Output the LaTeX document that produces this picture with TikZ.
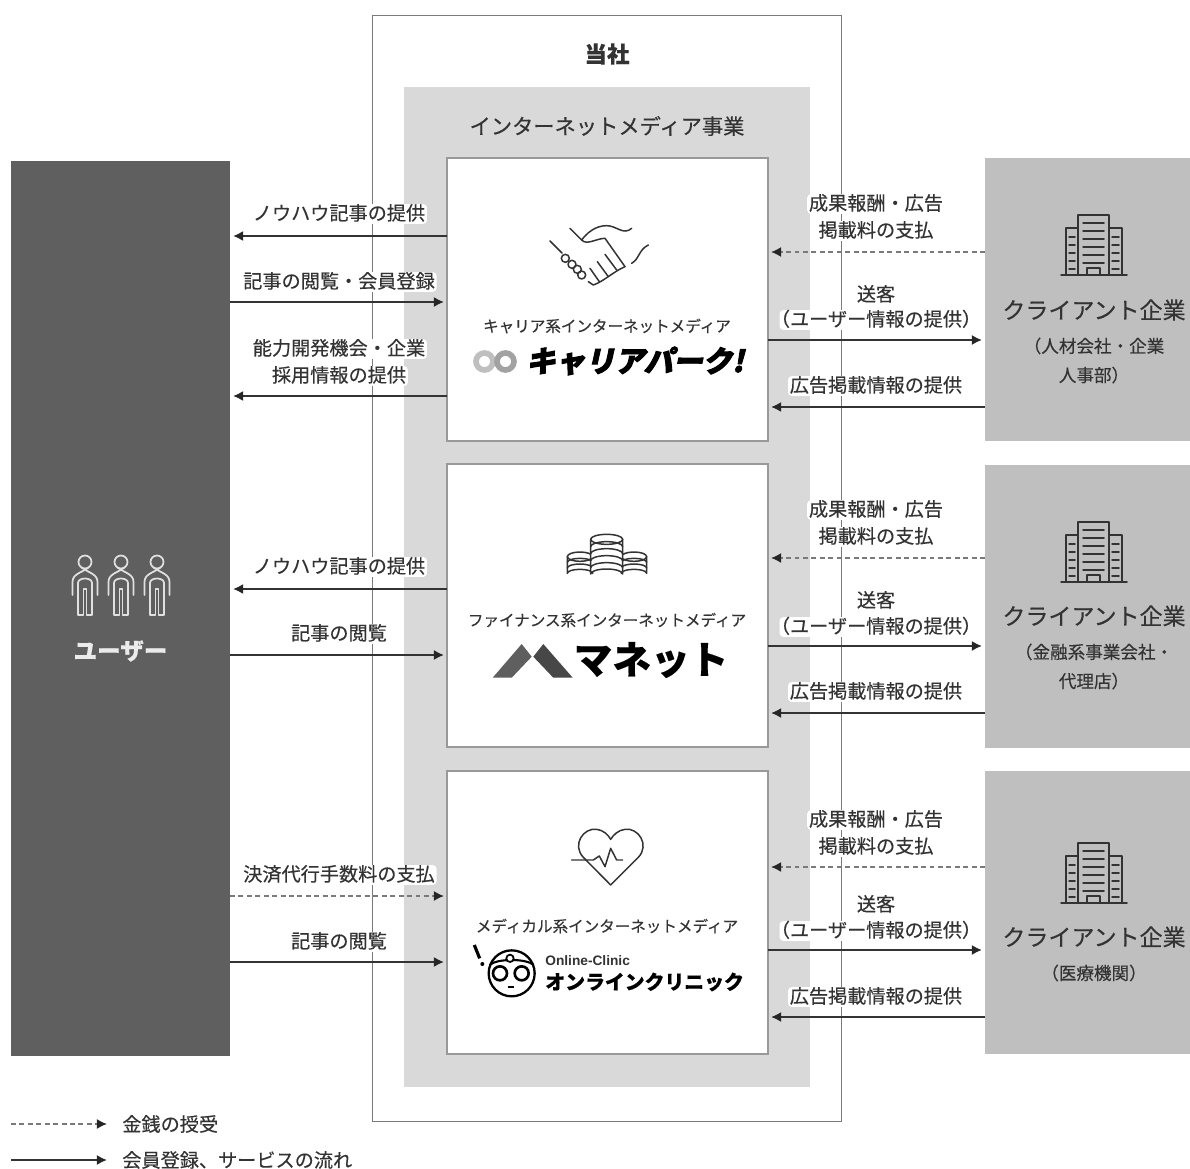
\documentclass[tikz,border=0pt]{standalone}
\usepackage{fontspec}
\usepackage{xcolor}
\usetikzlibrary{arrows.meta}
\setmainfont{Noto Sans CJK JP}[FakeBold=0.35]
\newfontfamily\careerlogofont{Noto Sans CJK JP}[FakeSlant=0.22,FakeBold=3]
\newfontfamily\latinlogofont{Liberation Sans}
\definecolor{inkgrey}{HTML}{333333}
\definecolor{usergrey}{HTML}{5F5F5F}
\definecolor{clientgrey}{HTML}{BFBFBF}
\definecolor{mediagrey}{HTML}{D9D9D9}
\definecolor{rulegrey}{HTML}{999999}

\tikzset{
	panel/.style={rectangle, inner sep=0pt, outer sep=0pt},
	whitebox/.style={panel, fill=white, draw=rulegrey, line width=0.7pt, minimum width=6.42cm, minimum height=5.66cm},
	clientbox/.style={panel, fill=clientgrey, minimum width=4.1cm, minimum height=5.66cm},
	flowlabel/.style={inner xsep=1pt, inner ysep=0.5pt, rounded corners=2pt, fill=white, text=inkgrey, text height=8.6pt, text depth=1.6pt, font=\fontsize{10.9}{15.4}\selectfont},
	legendtext/.style={inner sep=0pt, text=inkgrey, font=\fontsize{10.9}{15.4}\selectfont},
	medianame/.style={inner sep=0pt, text=inkgrey, font=\fontsize{8.85}{10}\selectfont},
	clienttitle/.style={inner sep=0pt, text=inkgrey, font=\fontsize{13.1}{16}\selectfont},
	clientnote/.style={inner sep=0pt, align=center, text=inkgrey, font=\fontsize{10}{16.6}\selectfont},
	serviceflow/.style={-{Latex[length=5.8pt,width=5.8pt,color=black!85]}, line width=1.25pt, color=inkgrey, shorten >=1.7pt},
	moneyflow/.style={-{Latex[length=5.8pt,width=5.8pt,color=black!85]}, line width=1.05pt, color=inkgrey!65, dash pattern=on 2.8pt off 2pt, shorten >=1.7pt},
	icon/.style={line width=0.85pt, draw=inkgrey, line cap=round, line join=round},
	usericon/.style={line width=1pt, draw=white!88!black, line cap=round, line join=round},
	pics/building/.style={code={
		\draw[icon] (-33,30) -- (33,30);
		\draw[icon] (-16,30) -- (-16,-30) -- (15,-30) -- (15,30);
		\draw[icon] (-28,30) -- (-28,-17) -- (-16,-17);
		\draw[icon] (15,-17) -- (28,-17) -- (28,30);
		\foreach \y in {-22,-14,...,18}{
			\draw[icon] (-11,\y) -- (10,\y);
		}
		\foreach \y in {-8,0,...,24}{
			\draw[icon] (-25,\y) -- (-19,\y);
			\draw[icon] (18,\y) -- (25,\y);
		}
		\draw[icon] (-7,30) -- (-7,23) -- (6,23) -- (6,30);
	}},
	pics/person/.style={code={
		\draw[usericon] (0,0) circle (6.5);
		\draw[usericon] (-12.5,33) -- (-12.5,20) .. controls (-12.5,12) and (-4,11) .. (3.5,5.5);
		\draw[usericon] (12.5,33) -- (12.5,20) .. controls (12.5,12) and (4,11) .. (-3.5,5.5);
		\draw[usericon] (-7,33) -- (-7,21) .. controls (-7,15) and (7,15) .. (7,21) -- (7,33);
		\draw[usericon] (-7,27) -- (-7,53) -- (-1.5,53) -- (-1.5,27) -- (1.5,27) -- (1.5,53) -- (7,53) -- (7,27);
	}}
}

\begin{document}
\begin{tikzpicture}[x=0.02cm,y=-0.02cm]
	\useasboundingbox (0,0) rectangle (1190,1169);

	% frames
	\node[panel, draw=rulegrey!80!black, line width=0.6pt, minimum width=9.4cm, minimum height=22.14cm] (company) at (607,568.5) {};
	\node[panel, fill=mediagrey, minimum width=8.12cm, minimum height=20cm] (media) at (607,587) {};
	\draw[rulegrey!80!black, line width=0.6pt] (company.north east) -- (company.south east);
	\draw[rulegrey!80!black, line width=0.6pt] (company.north west) -- (company.south west);

	\node[inner sep=0pt, text=inkgrey, font=\fontsize{12.8}{16}\selectfont\bfseries] (companyname) at (607,54) {当社};
	\node[inner sep=0pt, text=inkgrey, font=\fontsize{12.1}{16}\selectfont] (medianame) at (607,126) {インターネットメディア事業};

	\node[whitebox] (career) at (607.5,299.5) {};
	\node[whitebox] (finance) at (607.5,605.5) {};
	\node[whitebox] (medical) at (607.5,912.5) {};

	\node[panel, fill=usergrey, minimum width=4.38cm, minimum height=17.9cm] (user) at (120.5,608.5) {};
	\node[clientbox] (clientA) at (1087.5,299.5) {};
	\node[clientbox] (clientB) at (1087.5,606.5) {};
	\node[clientbox] (clientC) at (1087.5,912.5) {};

	% arrows, user side
	\draw[serviceflow] (career.west |- 0,236) -- (user.east |- 0,236);
	\draw[serviceflow] (user.east |- 0,302) -- (career.west |- 0,302);
	\draw[serviceflow] (career.west |- 0,396) -- (user.east |- 0,396);
	\draw[serviceflow] (finance.west |- 0,589) -- (user.east |- 0,589);
	\draw[serviceflow] (user.east |- 0,655) -- (finance.west |- 0,655);
	\draw[moneyflow] (user.east |- 0,896) -- (medical.west |- 0,896);
	\draw[serviceflow] (user.east |- 0,962) -- (medical.west |- 0,962);

	% arrows, client side
	\draw[moneyflow] (clientA.west |- 0,252) -- (career.east |- 0,252);
	\draw[serviceflow] (career.east |- 0,340) -- (clientA.west |- 0,340);
	\draw[serviceflow] (clientA.west |- 0,407) -- (career.east |- 0,407);
	\draw[moneyflow] (clientB.west |- 0,558) -- (finance.east |- 0,558);
	\draw[serviceflow] (finance.east |- 0,646) -- (clientB.west |- 0,646);
	\draw[serviceflow] (clientB.west |- 0,713) -- (finance.east |- 0,713);
	\draw[moneyflow] (clientC.west |- 0,867) -- (medical.east |- 0,867);
	\draw[serviceflow] (medical.east |- 0,950) -- (clientC.west |- 0,950);
	\draw[serviceflow] (clientC.west |- 0,1017) -- (medical.east |- 0,1017);

	% labels, user side
	\node[flowlabel] (knowhowA) at (339,214) {ノウハウ記事の提供};
	\node[flowlabel] (signupA) at (339,282) {記事の閲覧・会員登録};
	\node[flowlabel] (skillA) at (339,349) {能力開発機会・企業};
	\node[flowlabel] (hiringA) at (339,376) {採用情報の提供};
	\node[flowlabel] (knowhowB) at (339,567) {ノウハウ記事の提供};
	\node[flowlabel] (readB) at (339,634) {記事の閲覧};
	\node[flowlabel] (feeC) at (339,875) {決済代行手数料の支払};
	\node[flowlabel] (readC) at (339,942) {記事の閲覧};

	% labels, client side
	\node[flowlabel] (rewardA) at (876,204) {成果報酬・広告};
	\node[flowlabel] (paymentA) at (876,231) {掲載料の支払};
	\node[flowlabel] (sendA) at (876,295) {送客};
	\node[flowlabel, inner xsep=-5pt] (detailA) at (876,320) {（ユーザー情報の提供）};
	\node[flowlabel] (infoA) at (876,386) {広告掲載情報の提供};
	\node[flowlabel] (rewardB) at (876,510) {成果報酬・広告};
	\node[flowlabel] (paymentB) at (876,537) {掲載料の支払};
	\node[flowlabel] (sendB) at (876,601) {送客};
	\node[flowlabel, inner xsep=-5pt] (detailB) at (876,627) {（ユーザー情報の提供）};
	\node[flowlabel] (infoB) at (876,692) {広告掲載情報の提供};
	\node[flowlabel] (rewardC) at (876,820) {成果報酬・広告};
	\node[flowlabel] (paymentC) at (876,847) {掲載料の支払};
	\node[flowlabel] (sendC) at (876,905) {送客};
	\node[flowlabel, inner xsep=-5pt] (detailC) at (876,931) {（ユーザー情報の提供）};
	\node[flowlabel] (infoC) at (876,997) {広告掲載情報の提供};

	% user panel
	\foreach \x in {85,121,157}{
		\pic at (\x,562) {person};
	}
	\node[inner sep=0pt, text=white!92!black, font=\fontsize{13.4}{16}\selectfont\bfseries] (usertext) at (120.5,651) {ユーザー};

	% client panels
	\pic at (1094,245) {building};
	\pic at (1094,552) {building};
	\pic at (1094,873) {building};
	\node[clienttitle] (clientnameA) at (1094,310) {クライアント企業};
	\node[clientnote] (clientnoteA) at (1094,360.5) {（人材会社・企業\\人事部）};
	\node[clienttitle] (clientnameB) at (1094,616) {クライアント企業};
	\node[clientnote] (clientnoteB) at (1094,666.5) {（金融系事業会社・\\代理店）};
	\node[clienttitle] (clientnameC) at (1094,937) {クライアント企業};
	\node[clientnote] (clientnoteC) at (1094,973) {（医療機関）};

	% handshake
	\begin{scope}[shift={(540,215)},x=0.00667cm,y=-0.00667cm]
		\draw[icon] (30,78) -- (66,114);
		\foreach \x/\y in {76/130,96/148,112/163,125/180}{
			\draw[icon] (\x,\y) circle (12);
		}
		\draw[icon] (90,40) -- (125,75) .. controls (140,55) and (165,32) .. (200,32) .. controls (230,32) and (250,62) .. (275,40);
		\draw[icon] (125,75) .. controls (140,92) and (170,70) .. (195,70) -- (255,155);
		\draw[icon] (195,118) -- (230,165);
		\draw[icon] (172,140) -- (205,185);
		\draw[icon] (150,160) -- (178,200);
		\draw[icon] (255,155) .. controls (220,170) and (190,200) .. (160,210) -- (145,200);
		\draw[icon] (275,145) .. controls (300,130) and (295,105) .. (325,90);
	\end{scope}

	% coins
	\begin{scope}[shift={(440,500)},x=0.00667cm,y=-0.00667cm]
		\foreach \c in {420,582}{
			\draw[icon, fill=white] (\c-38,170) -- (\c-38,220) arc (180:360:38 and 12) -- (\c+38,170);
			\draw[icon, fill=white] (\c,170) ellipse (38 and 14);
			\foreach \y in {187,204}{
				\draw[icon] (\c-38,\y) arc (180:360:38 and 12);
			}
		}
		\draw[icon, fill=white] (452,118) -- (452,222) arc (180:360:48 and 15) -- (548,118);
		\draw[icon, fill=white] (500,118) ellipse (48 and 15);
		\foreach \y in {140,161,182,203}{
			\draw[icon] (452,\y) arc (180:360:48 and 15);
		}
	\end{scope}

	% heart
	\begin{scope}[shift={(440,770)},x=0.00667cm,y=-0.00667cm]
		\draw[icon] (512,345) -- (430,262) .. controls (395,225) and (430,172) .. (470,178) .. controls (490,180) and (505,195) .. (512,208) .. controls (520,195) and (535,180) .. (555,178) .. controls (595,172) and (630,225) .. (595,262) -- cycle;
		\draw[icon] (395,270) -- (460,270) -- (478,258) -- (495,290) -- (512,235) -- (530,270) -- (548,270);
	\end{scope}

	% logos
	\draw[line width=3.2pt, color=clientgrey] (484.5,361.5) circle (8.5);
	\draw[line width=3.2pt, color=clientgrey!85!black] (505.5,361.5) circle (8.5);
	\node[medianame] (careername) at (607,326) {キャリア系インターネットメディア};
	\node[inner sep=0pt, text=black, font=\fontsize{16.8}{20}\careerlogofont\bfseries] (careerlogo) at (635,361) {キャリアパーク!};

	\fill[usergrey] (492.7,677.7) -- (521.7,644) -- (531.7,656.7) -- (511.7,677.7) -- cycle;
	\fill[usergrey!75!black] (543.3,644) -- (572.7,677.7) -- (553.3,677.7) -- (533.3,656.7) -- cycle;
	\node[medianame] (financename) at (607,620) {ファイナンス系インターネットメディア};
	\node[inner sep=0pt, text=black, font=\fontsize{22}{24}\selectfont\bfseries] (financelogo) at (651,660) {マネット};

	\node[medianame] (medicalname) at (607,926) {メディカル系インターネットメディア};
	\begin{scope}[shift={(465,935)},x=0.00667cm,y=-0.00667cm]
		\draw[line width=1.3pt, color=black] (140,115) circle (69);
		\draw[line width=1.2pt, color=black] (74,90) .. controls (95,70) and (185,70) .. (206,90);
		\draw[line width=1.5pt, color=black] (105,115) circle (21);
		\draw[line width=1.5pt, color=black] (170,115) circle (21);
		\draw[line width=1pt, color=black, fill=white] (135,70) circle (11);
		\draw[line width=1pt, color=black] (128,157) -- (148,157);
		\draw[line width=1.8pt, color=black] (28,30) -- (44,70);
		\fill[black] (52,87) circle (6);
	\end{scope}
	\node[anchor=west, inner sep=0pt, text=inkgrey, font=\fontsize{7.8}{10}\latinlogofont\bfseries] (cliniclatin) at (545,961) {Online-Clinic};
	\node[anchor=west, inner sep=0pt, text=black, font=\fontsize{11.3}{14}\selectfont\bfseries] (clinicname) at (545,982) {オンラインクリニック};

	% legend
	\node[legendtext, anchor=west] (moneytext) at (122,1124) {金銭の授受};
	\node[legendtext, anchor=west] (servicetext) at (122,1160) {会員登録、サービスの流れ};
	\coordinate (moneystart) at (11,1124);
	\coordinate (servicestart) at (11,1160);
	\draw[moneyflow, shorten >=8.5pt] (moneystart) -- (moneytext.west);
	\draw[serviceflow, shorten >=8.5pt] (servicestart) -- (servicetext.west);
\end{tikzpicture}
\end{document}
